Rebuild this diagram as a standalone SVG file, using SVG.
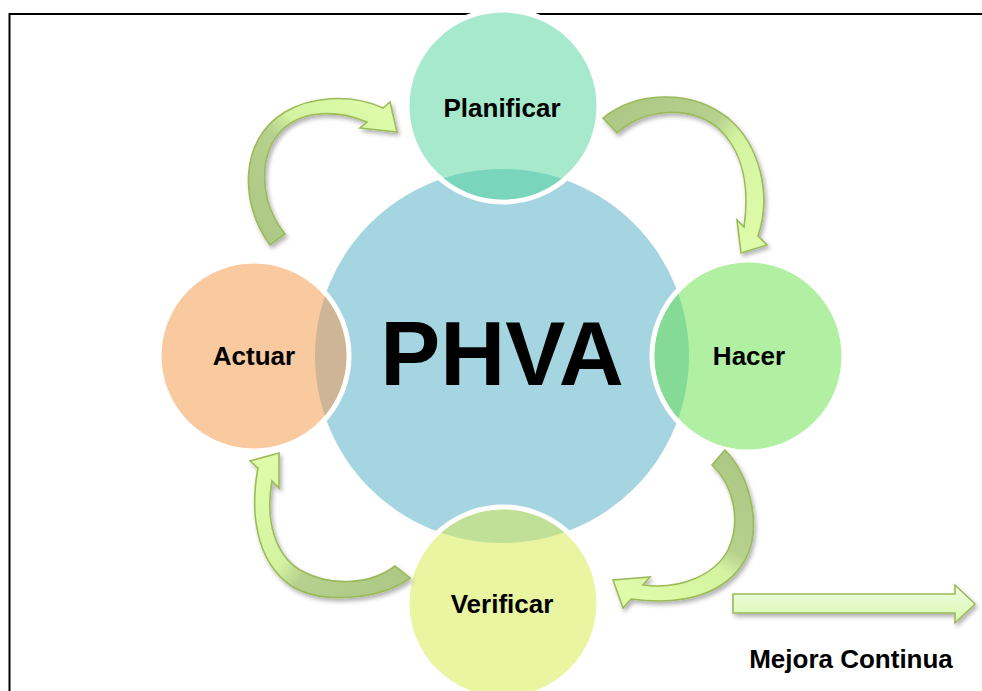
<svg xmlns="http://www.w3.org/2000/svg" width="982" height="691" viewBox="0 0 982 691">
<style>
.lbl{font-family:"Liberation Sans",Arial,sans-serif;font-weight:bold;fill:#000;text-anchor:middle}
.arr{stroke:#9BBB59;stroke-width:1.6;stroke-linejoin:miter;filter:url(#sh)}
.ring{stroke:#fff;stroke-width:5}
</style>
<defs>
<filter id="sh" x="-20%" y="-20%" width="140%" height="140%">
<feDropShadow dx="2" dy="3" stdDeviation="2" flood-color="#000" flood-opacity="0.3"/>
</filter>
<clipPath id="big"><circle cx="502" cy="356" r="187"/></clipPath>
<linearGradient id="gA" gradientUnits="userSpaceOnUse" x1="277" y1="240" x2="390" y2="115">
<stop offset="0" stop-color="#AEC886"/><stop offset="0.45" stop-color="#B6D08D"/><stop offset="0.6" stop-color="#D4F3A1"/><stop offset="1" stop-color="#DDFBA9"/></linearGradient>
<linearGradient id="gB" gradientUnits="userSpaceOnUse" x1="610" y1="125" x2="752" y2="235">
<stop offset="0" stop-color="#AEC886"/><stop offset="0.45" stop-color="#B6D08D"/><stop offset="0.6" stop-color="#D4F3A1"/><stop offset="1" stop-color="#DDFBA9"/></linearGradient>
<linearGradient id="gC" gradientUnits="userSpaceOnUse" x1="718" y1="457" x2="635" y2="592">
<stop offset="0" stop-color="#AEC886"/><stop offset="0.45" stop-color="#B6D08D"/><stop offset="0.6" stop-color="#D4F3A1"/><stop offset="1" stop-color="#DDFBA9"/></linearGradient>
<linearGradient id="gD" gradientUnits="userSpaceOnUse" x1="402" y1="572" x2="265" y2="470">
<stop offset="0" stop-color="#AEC886"/><stop offset="0.45" stop-color="#B6D08D"/><stop offset="0.6" stop-color="#D4F3A1"/><stop offset="1" stop-color="#DDFBA9"/></linearGradient>
<linearGradient id="gM" x1="0" y1="0" x2="0" y2="1">
<stop offset="0" stop-color="#F0FDE0"/><stop offset="1" stop-color="#D8F8B0"/></linearGradient>
</defs>

<rect x="9.5" y="14" width="1000" height="700" fill="#fff" stroke="#000" stroke-width="2"/>

<g id="phva">
<circle cx="502" cy="356" r="187" fill="#A6D5E2"/>
<text class="lbl" x="502" y="385" font-size="90">PHVA</text>
</g>

<g id="planificar">
<circle class="ring" cx="503" cy="106" r="96" fill="#A7E9CC"/>
<circle cx="503" cy="106" r="93.5" fill="#79D5BC" clip-path="url(#big)"/>
<text class="lbl" x="502" y="117" font-size="26">Planificar</text>
</g>

<g id="hacer">
<circle class="ring" cx="748" cy="356" r="96" fill="#B1F0A2"/>
<circle cx="748" cy="356" r="93.5" fill="#85DB96" clip-path="url(#big)"/>
<text class="lbl" x="749" y="365" font-size="26">Hacer</text>
</g>

<g id="actuar">
<circle class="ring" cx="254" cy="356" r="95" fill="#F9C9A0"/>
<circle cx="254" cy="356" r="92.5" fill="#CDB596" clip-path="url(#big)"/>
<text class="lbl" x="254" y="365" font-size="26">Actuar</text>
</g>

<g id="verificar">
<circle class="ring" cx="503" cy="603" r="96" fill="#E9F5A0"/>
<circle cx="503" cy="603" r="93.5" fill="#C0E097" clip-path="url(#big)"/>
<text class="lbl" x="502" y="613" font-size="26">Verificar</text>
</g>

<g id="connectors">
<path class="arr" fill="url(#gA)" d="M270,245 C240,205 238,140 285,112 C310,97 350,93 383,108 L390,102 L397,132 L360,128 L367,122 C338,110 305,110 284,128 C258,152 258,200 285,234 Z"/>
<path class="arr" fill="url(#gB)" d="M603,118 C635,92 690,88 728,118 C760,145 772,195 758,236 L767,245 L741,253 L737,220 L744,227 C750,185 742,150 718,128 C690,105 645,108 617,133 Z"/>
<path class="arr" fill="url(#gC)" d="M725,450 C752,478 762,530 745,560 C728,590 690,607 631,599 L623,608 L613,580 L650,577 L643,585 C680,590 715,575 728,550 C742,520 733,485 712,465 Z"/>
<path class="arr" fill="url(#gD)" d="M410,578 C380,600 320,605 290,585 C255,560 250,510 258,468 L250,461 L279,453 L279,488 L272,481 C265,520 275,555 300,570 C330,587 370,585 395,566 Z"/>
</g>

<g id="mejora">
<path class="arr" fill="url(#gM)" d="M733,594 L955,594 L955,585 L975,604 L955,623 L955,613 L733,613 Z"/>
<text class="lbl" x="851" y="668" font-size="26">Mejora Continua</text>
</g>
</svg>
